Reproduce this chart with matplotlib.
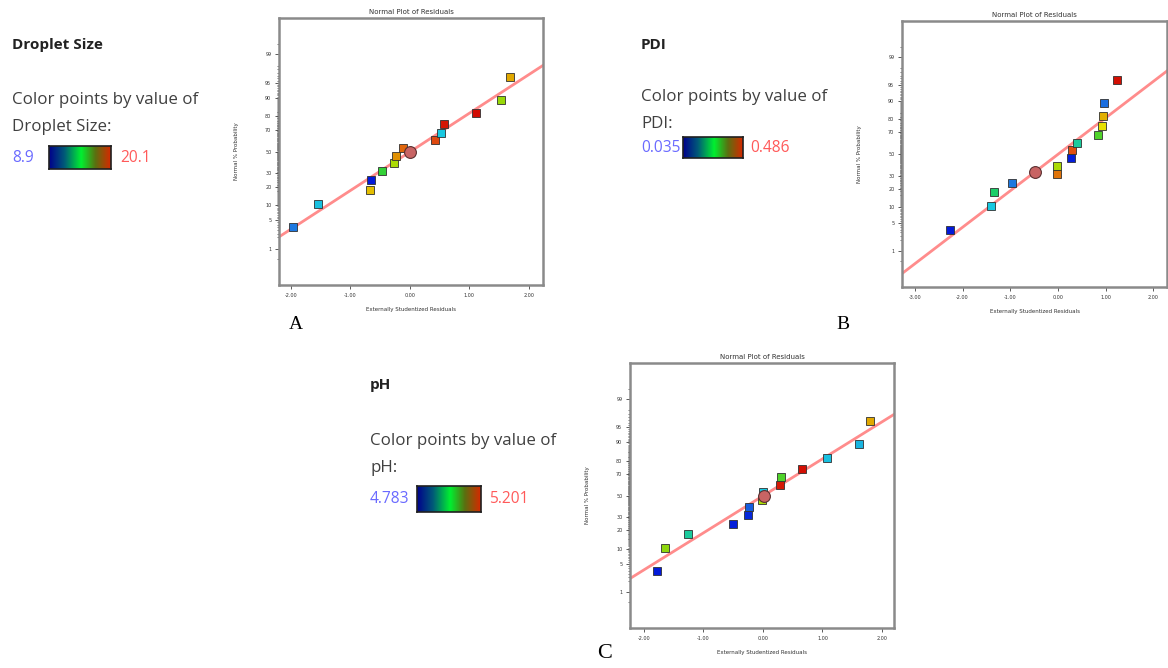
import math
from statistics import NormalDist

import numpy as np
import matplotlib
matplotlib.use('Agg')
import matplotlib.pyplot as plt
from matplotlib.colors import LinearSegmentedColormap
from matplotlib.ticker import FixedLocator, FuncFormatter

# --- data ------------------------------------------------------------------
# residuals (x) and normal % probability (y) of each run, per response
a_resid = [-1.97, -1.55, -0.67, -0.65, -0.47, -0.26, -0.23, -0.11, 0.00, 0.43, 0.53, 0.58, 1.12, 1.53, 1.68]
a_prob = [3.5, 10.7, 17.6, 24.8, 31.9, 39.0, 46.0, 53.6, 50.0, 60.6, 67.4, 74.5, 82.1, 89.1, 96.2]
a_level = [0.20, 0.32, 0.70, 0.02, 0.47, 0.60, 0.76, 0.82, 0.90, 0.86, 0.33, 0.96, 0.98, 0.58, 0.73]

b_resid = [-2.26, -1.41, -1.34, -0.97, -0.48, -0.01, -0.01, 0.28, 0.29, 0.41, 0.85, 0.93, 0.95, 0.97, 1.25]
b_prob = [3.4, 10.6, 17.9, 24.5, 33.7, 31.9, 39.0, 46.0, 53.6, 60.6, 67.7, 74.9, 82.1, 89.1, 96.3]
b_level = [0.02, 0.33, 0.42, 0.20, 0.90, 0.80, 0.60, 0.03, 0.85, 0.38, 0.50, 0.66, 0.72, 0.18, 0.97]

c_resid = [-1.78, -1.64, -1.26, -0.50, -0.25, -0.23, -0.02, 0.02, 0.00, 0.28, 0.30, 0.66, 1.07, 1.62, 1.79]
c_prob = [3.4, 10.4, 17.6, 24.5, 32.3, 39.0, 46.0, 49.2, 53.2, 60.3, 67.4, 74.2, 81.9, 89.1, 96.4]
c_level = [0.02, 0.57, 0.38, 0.03, 0.05, 0.15, 0.60, 0.90, 0.33, 0.95, 0.50, 0.97, 0.32, 0.30, 0.73]

# reference line (z = slope * x + intercept), one per response
a_line = (0.923, -0.01)
b_line = (0.874, -0.01)
c_line = (0.892, -0.01)

# index of the larger (overlapping) marker
a_big, b_big, c_big = 8, 4, 7

prob_ticks = [1, 5, 10, 20, 30, 50, 70, 80, 90, 95, 99]

# response name, low, high
responses = [('Droplet Size', '8.9', '20.1'),
             ('PDI', '0.035', '0.486'),
             ('pH', '4.783', '5.201')]

W, H = 1168, 668
nd = NormalDist()

point_cmap = LinearSegmentedColormap.from_list('pts', [
    (0.0, '#0010d8'), (0.2, '#1e78e0'), (0.33, '#18c8e0'), (0.45, '#20d040'),
    (0.58, '#98d808'), (0.66, '#e8e000'), (0.74, '#e0a000'), (0.85, '#e05010'),
    (1.0, '#d00000')])
bar_cmap = LinearSegmentedColormap.from_list('bar', [
    (0.0, '#00008c'), (0.25, '#005a78'), (0.52, '#00f030'), (0.75, '#5a7010'),
    (1.0, '#d82800')])


def fwd(p):
    p = np.clip(np.asarray(p, dtype=float), 1e-6, 100 - 1e-6)
    return np.vectorize(lambda v: nd.inv_cdf(v / 100.0))(p)


def inv(z):
    z = np.asarray(z, dtype=float)
    return np.vectorize(lambda v: 50.0 * (1 + math.erf(v / math.sqrt(2))))(z)


def px(x, y):
    return x / W, 1 - y / H


fig = plt.figure(figsize=(W / 100, H / 100), dpi=100)


def residual_plot(rect, resid, prob, level, line, big, xlim, xticks):
    ax = fig.add_axes(rect)
    ax.set_yscale('function', functions=(fwd, inv))
    ax.set_ylim(inv(-3.19), inv(3.19))
    ax.set_xlim(*xlim)

    xs = np.array(ax.get_xlim())
    ax.plot(xs, inv(line[0] * xs + line[1]), color='#ff8c8c', lw=2, zorder=2)

    cols = point_cmap(np.array(level))
    for i in range(len(resid)):
        if i == big:
            ax.plot(resid[i], prob[i], 'o', ms=8.5, mfc='#c86464',
                    mec='#5a3030', mew=0.8, zorder=4)
        else:
            ax.plot(resid[i], prob[i], 's', ms=5.3, mfc=cols[i],
                    mec='#303030', mew=0.6, zorder=3)

    ax.yaxis.set_major_locator(FixedLocator(prob_ticks))
    ax.yaxis.set_major_formatter(FuncFormatter(lambda v, p: '%g' % v))
    minors = [v for v in list(np.arange(2, 98.5, 0.5)) + [0.5, 99.5] if v not in prob_ticks]
    ax.yaxis.set_minor_locator(FixedLocator(minors))
    ax.yaxis.set_minor_formatter(FuncFormatter(lambda v, p: ''))
    ax.set_xticks(xticks)
    ax.xaxis.set_major_formatter(FuncFormatter(lambda v, p: '%.2f' % v))

    ax.tick_params(axis='both', which='major', labelsize=3.5, length=3,
                   width=0.6, color='#404040', pad=2.5, labelcolor='#333333')
    ax.tick_params(axis='y', which='minor', length=1.8, width=0.5, color='#404040')
    for s in ax.spines.values():
        s.set_color('#8a8a8a')
        s.set_linewidth(1.8)
    ax.set_title('Normal Plot of Residuals', fontsize=5, pad=3, color='#333333')
    ax.set_xlabel('Externally Studentized Residuals', fontsize=4, labelpad=7,
                  color='#333333')
    ax.set_ylabel('Normal % Probability', fontsize=4, labelpad=19, color='#333333')
    return ax


def legend_block(x, y_title, y_text, name, low, high, bar_x0, bar_x1, bar_y0, bar_y1, hi_x):
    fam = ['Open Sans', 'DejaVu Sans']
    fig.text(*px(x, y_title), name, fontsize=11, fontweight='bold', family=fam,
             va='center', color='#222222')
    fig.text(*px(x, y_text), 'Color points by value of', fontsize=12.2, family=fam,
             va='center', color='#404040')
    fig.text(*px(x, y_text + 27), name + ':', fontsize=12.2, family=fam,
             va='center', color='#404040')
    yv = (bar_y0 + bar_y1) / 2
    fig.text(*px(x, yv), low, fontsize=11.2, family=fam, va='center', color='#6a6aff')
    fig.text(*px(hi_x, yv), high, fontsize=11.2, family=fam, va='center', color='#ff5a5a')
    bx = fig.add_axes([bar_x0 / W, 1 - bar_y1 / H, (bar_x1 - bar_x0) / W,
                       (bar_y1 - bar_y0) / H])
    bx.imshow(np.linspace(0, 1, 256)[None, :], aspect='auto', cmap=bar_cmap)
    bx.set_xticks([])
    bx.set_yticks([])
    for s in bx.spines.values():
        s.set_color('#202020')
        s.set_linewidth(1.2)


residual_plot([279 / W, 1 - 285 / H, 264 / W, 267 / H], a_resid, a_prob, a_level,
              a_line, a_big, (-2.2, 2.24), [-2, -1, 0, 1, 2])
residual_plot([902 / W, 1 - 287 / H, 265 / W, 266 / H], b_resid, b_prob, b_level,
              b_line, b_big, (-3.27, 2.29), [-3, -2, -1, 0, 1, 2])
residual_plot([630 / W, 1 - 628 / H, 264 / W, 265 / H], c_resid, c_prob, c_level,
              c_line, c_big, (-2.23, 2.2), [-2, -1, 0, 1, 2])

legend_block(12, 45, 100, responses[0][0], responses[0][1], responses[0][2],
             49, 111, 146, 169, 120)
legend_block(641, 45, 97, responses[1][0], responses[1][1], responses[1][2],
             683, 743, 137, 158, 750)
legend_block(370, 385, 441, responses[2][0], responses[2][1], responses[2][2],
             417, 481, 486, 512, 489)

serif = ['Liberation Serif', 'DejaVu Serif']
fig.text(*px(296, 325), 'A', fontsize=14, family=serif, ha='center', va='center')
fig.text(*px(843, 325), 'B', fontsize=14, family=serif, ha='center', va='center')
fig.text(*px(605, 653), 'C', fontsize=16, family=serif, ha='center', va='center')

fig.savefig('out.png', dpi=100)
